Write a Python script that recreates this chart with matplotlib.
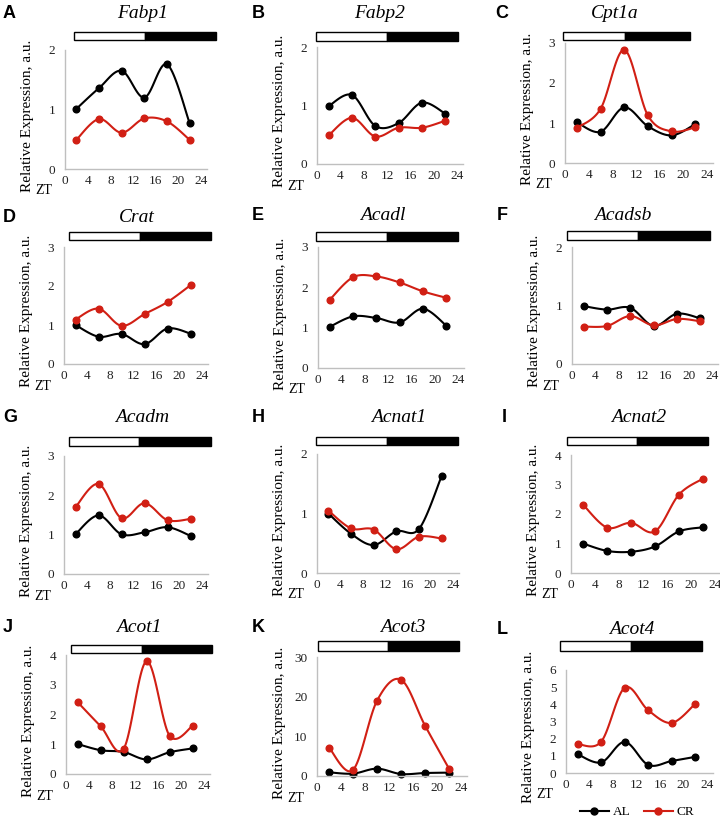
import numpy as np
import matplotlib.pyplot as plt
from matplotlib.patches import Rectangle
from matplotlib.lines import Line2D

# sampling times (ZT, hours)
zt = [2, 6, 10, 14, 18, 22]

genes = ['Fabp1', 'Fabp2', 'Cpt1a', 'Crat', 'Acadl', 'Acadsb',
         'Acadm', 'Acnat1', 'Acnat2', 'Acot1', 'Acot3', 'Acot4']
letters = ['A', 'B', 'C', 'D', 'E', 'F', 'G', 'H', 'I', 'J', 'K', 'L']
ymax = [2, 2, 3, 3, 3, 2, 3, 2, 4, 4, 30, 6]
ystep = [1, 1, 1, 1, 1, 1, 1, 1, 1, 1, 10, 1]

# AL (ad libitum) relative expression
al = [
    [1.01, 1.36, 1.65, 1.20, 1.76, 0.77],
    [0.99, 1.18, 0.65, 0.70, 1.05, 0.86],
    [1.02, 0.78, 1.39, 0.92, 0.69, 0.97],
    [1.00, 0.70, 0.77, 0.51, 0.91, 0.78],
    [1.02, 1.28, 1.24, 1.13, 1.47, 1.05],
    [0.99, 0.93, 0.96, 0.65, 0.86, 0.78],
    [1.01, 1.49, 1.01, 1.06, 1.19, 0.97],
    [1.00, 0.66, 0.47, 0.70, 0.74, 1.63],
    [1.00, 0.75, 0.72, 0.90, 1.41, 1.55],
    [1.01, 0.80, 0.74, 0.49, 0.73, 0.86],
    [0.93, 0.60, 1.85, 0.50, 0.75, 0.85],
    [1.09, 0.62, 1.81, 0.47, 0.70, 0.94],
]

# CR (calorie restriction) relative expression
cr = [
    [0.49, 0.84, 0.61, 0.85, 0.80, 0.49],
    [0.49, 0.79, 0.47, 0.62, 0.62, 0.74],
    [0.88, 1.35, 2.83, 1.19, 0.79, 0.89],
    [1.14, 1.42, 0.98, 1.28, 1.59, 2.02],
    [1.69, 2.25, 2.27, 2.12, 1.90, 1.74],
    [0.64, 0.65, 0.82, 0.66, 0.77, 0.73],
    [1.70, 2.29, 1.42, 1.80, 1.37, 1.40],
    [1.05, 0.75, 0.73, 0.40, 0.61, 0.58],
    [2.32, 1.54, 1.70, 1.41, 2.66, 3.20],
    [2.42, 1.61, 0.84, 3.79, 1.29, 1.61],
    [7.16, 1.52, 18.96, 24.26, 12.72, 1.85],
    [1.68, 1.83, 4.97, 3.65, 2.92, 4.03],
]

W, H = 720, 819

# layout in pixels: x of ZT0, x of ZT24, y of top, y of zero
boxes = [
    (65, 201, 50, 169), (317, 457, 47, 164), (565, 707, 43, 163),
    (64, 202, 247, 364), (318, 458, 247, 368), (572, 712, 247, 364),
    (64, 202, 456, 574), (317, 453, 454, 573), (571, 715, 455, 573),
    (66, 204, 655, 774), (317, 461, 657, 776), (566, 707, 670, 773),
]
# light/dark bar: start, split, end, top, bottom (pixels)
bars = [
    (74, 145, 216, 32, 40), (316, 387, 458, 32, 41), (563, 625, 690, 32, 40),
    (69, 140, 211, 232, 240), (316, 387, 458, 232, 241), (567, 638, 710, 231, 240),
    (69, 139, 211, 437, 446), (316, 387, 458, 437, 445), (567, 637, 708, 437, 445),
    (71, 142, 212, 645, 653), (318, 388, 459, 641, 651), (560, 631, 702, 641, 651),
]
titles = [
    (143, 13), (380, 13), (615, 13),
    (137, 217), (383, 216), (623, 216),
    (142, 417), (399, 417), (639, 417),
    (139, 628), (403, 628), (632, 630),
]
label_x = [3, 252, 495, 3, 252, 497, 3, 252, 502, 3, 252, 497]

RED = '#d11f14'
GRID = '#bfbfbf'
SERIF = 'Liberation Serif'


def smooth(x, y, n=24):
    # Excel-style smoothed line (Catmull-Rom through the points)
    p = np.column_stack([x, y]).astype(float)
    ext = np.vstack([p[0], p, p[-1]])
    out = []
    t = np.linspace(0, 1, n)[:, None]
    for i in range(1, len(ext) - 2):
        p0, p1, p2, p3 = ext[i - 1], ext[i], ext[i + 1], ext[i + 2]
        c1 = p1 + (p2 - p0) / 6
        c2 = p2 - (p3 - p1) / 6
        seg = ((1 - t) ** 3) * p1 + 3 * ((1 - t) ** 2) * t * c1 \
            + 3 * (1 - t) * t ** 2 * c2 + t ** 3 * p2
        out.append(seg)
    s = np.vstack(out)
    return s[:, 0], s[:, 1]


fig = plt.figure(figsize=(W / 100, H / 100), dpi=100)

for i in range(12):
    x0, x24, yt, yb = boxes[i]
    w = (x24 - x0) * 25 / 24
    ax = fig.add_axes([x0 / W, 1 - yb / H, w / W, (yb - yt) / H])
    ax.set_xlim(0, 25)
    ax.set_ylim(0, ymax[i])
    ax.set_xticks(range(0, 25, 4))
    ax.set_yticks(np.arange(0, ymax[i] + 0.1, ystep[i]))
    for s in ['top', 'right']:
        ax.spines[s].set_visible(False)
    for s in ['left', 'bottom']:
        ax.spines[s].set_color(GRID)
        ax.spines[s].set_linewidth(1.0)
    ax.tick_params(length=0, labelsize=9.5, labelcolor='#222222')
    ax.tick_params(axis='x', pad=4)
    ax.tick_params(axis='y', pad=7)
    for lab in ax.get_xticklabels() + ax.get_yticklabels():
        lab.set_fontfamily(SERIF)

    bx, by = smooth(zt, al[i])
    ax.plot(bx, by, color='black', lw=1.5, clip_on=False)
    ax.plot(zt, al[i], 'o', color='black', ms=4.8, clip_on=False)
    rx, ry = smooth(zt, cr[i])
    ax.plot(rx, ry, color=RED, lw=1.5, clip_on=False)
    ax.plot(zt, cr[i], 'o', color=RED, ms=4.8, clip_on=False)

    ax.set_ylabel('Relative Expression, a.u.', family=SERIF, fontsize=11)
    ax.yaxis.set_label_coords(-31 / w, 0.45)
    ax.text(-21 / w, -22 / (yb - yt), 'ZT', transform=ax.transAxes,
            family=SERIF, fontsize=10, ha='center', va='center')

    # light / dark bar
    s0, sp, s1, bt, bb = bars[i]
    fig.add_artist(Rectangle((s0 / W, 1 - bb / H), (sp - s0) / W, (bb - bt) / H,
                             transform=fig.transFigure, facecolor='white',
                             edgecolor='black', lw=1.0))
    fig.add_artist(Rectangle((sp / W, 1 - bb / H), (s1 - sp) / W, (bb - bt) / H,
                             transform=fig.transFigure, facecolor='black',
                             edgecolor='black', lw=1.0))

    tx, ty = titles[i]
    fig.text(tx / W, 1 - ty / H, genes[i], family=SERIF, style='italic',
             fontsize=14, ha='center', va='center')
    fig.text(label_x[i] / W, 1 - ty / H, letters[i], family='Liberation Sans',
             weight='bold', fontsize=13, ha='left', va='center')

handles = [Line2D([], [], color='black', marker='o', ms=5, lw=1.5),
           Line2D([], [], color=RED, marker='o', ms=5, lw=1.5)]
fig.legend(handles, ['AL', 'CR'], loc='center', ncol=2, frameon=False,
           bbox_to_anchor=(637 / W, 1 - 812 / H), prop={'family': SERIF, 'size': 9.5},
           handlelength=2.2, handletextpad=0.3, columnspacing=1.0)

fig.savefig('out.png', dpi=100)
